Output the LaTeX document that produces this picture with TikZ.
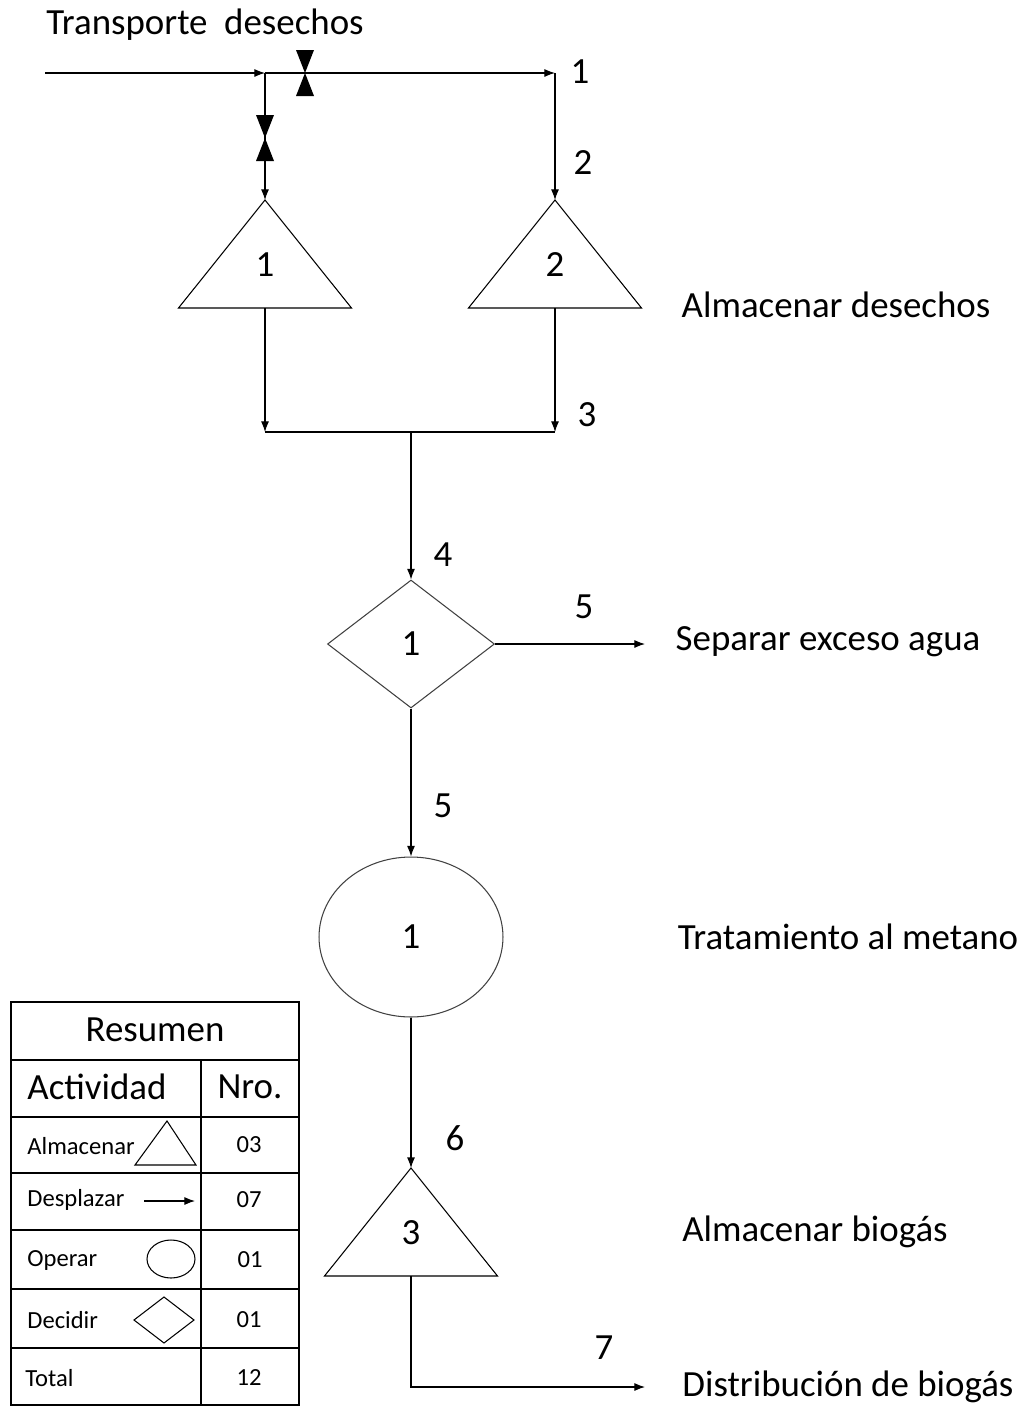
\documentclass[tikz,border=0pt]{standalone}
\usepackage{fontspec}
\setmainfont{Carlito}
\usetikzlibrary{shapes.geometric,arrows.meta}

\tikzset{
  flecha/.style={-{Latex[length=6pt,width=4.5pt]}},
  grande/.style={font=\fontsize{21}{24}\selectfont},
  chico/.style={font=\fontsize{14}{16}\selectfont},
  decision/.style={diamond, draw=black!75, inner sep=0pt, minimum width=3.34cm, minimum height=2.56cm, grande},
  operacion/.style={ellipse, draw=black!75, inner sep=0pt, minimum width=3.68cm, minimum height=3.2cm, grande},
}

% triangulo de almacenamiento: nombre, vertice, numero
\newcommand{\tanque}[3]{%
  \coordinate (#1-ap) at #2;
  \draw (#1-ap) -- ++(-86.5,108) -- ++(86.5,0) coordinate (#1-b) -- ++(86.5,0) -- cycle;
  \path (#1-ap) ++(0,65) node[grande] (#1-n) {#3};
}
% valvula (dos triangulos negros)
\newcommand{\valv}[1]{%
  \fill[shift={(#1)}] (-9,-23) -- (9,-23) -- (0,0) -- cycle (-9,23) -- (9,23) -- (0,0) -- cycle;
}

\begin{document}
\begin{tikzpicture}[x=0.02cm, y=-0.02cm, line width=0.6pt]
  \useasboundingbox (0,0) rectangle (1026,1407);

  % entrada
  \node[grande] (trans) at (205,25) {Transporte\ \ desechos};
  \coordinate (ini) at (45,73);
  \coordinate (bif) at (265,73);
  \coordinate (p1) at (555,73);
  \draw[flecha] (ini) -- (bif);
  \draw[flecha] (bif) -- (p1);
  \valv{305,73}
  \node[grande] (n1) at (580,72) {1};

  % almacenes
  \tanque{t1}{(265,200)}{1}
  \tanque{t2}{(555,200)}{2}
  \draw[flecha] (bif) -- (t1-ap);
  \valv{265,138}
  \draw[flecha] (p1) -- (t2-ap);
  \node[grande] (n2) at (583,163) {2};
  \node[grande] (alm1) at (836,305) {Almacenar desechos};

  % union
  \coordinate (u1) at (265,432);
  \coordinate (u2) at (555,432);
  \coordinate (u) at (411,432);
  \draw[flecha] (t1-b) -- (u1);
  \draw[flecha] (t2-b) -- (u2);
  \draw (u1) -- (u2);
  \node[grande] (n3) at (587,415) {3};

  % separar
  \node[decision] (d1) at (411,644) {1};
  \draw[flecha] (u) -- (d1.north);
  \node[grande] (n4) at (443,555) {4};
  \coordinate (agua) at (645,644);
  \draw[flecha] (d1.east) -- (agua);
  \node[grande] (n5a) at (584,607) {5};
  \node[grande] (sep) at (828,642) {Separar exceso agua};

  % tratamiento
  \node[operacion] (o1) at (411,937) {1};
  \draw[flecha] (d1.south) -- (o1.north);
  \node[grande] (n5b) at (443,806) {5};
  \node[grande] (trat) at (848,937) {Tratamiento al metano};

  % biogas
  \tanque{t3}{(411,1168)}{3}
  \draw[flecha] (o1.south) -- (t3-ap);
  \node[grande] (n6) at (455,1138) {6};
  \node[grande] (alm2) at (815,1232) {Almacenar biogás};
  \coordinate (esq) at (411,1387);
  \coordinate (dist) at (645,1387);
  \draw[flecha] (t3-b) -- (esq) -- (dist);
  \node[grande] (n7) at (604,1348) {7};
  \node[grande] (distb) at (848,1387) {Distribución de biogás};

  % tabla resumen
  \draw (11,1002) rectangle (299,1405);
  \foreach \y in {1060,1117,1173,1230,1289,1348}
    \draw (11,\y) -- (299,\y);
  \draw (201,1060) -- (201,1405);
  \node[grande] (res) at (155,1030) {Resumen};
  \node[grande] (act) at (97,1087) {Actividad};
  \node[grande] (nro) at (250,1087) {Nro.};
  \node[chico, anchor=west] (ta) at (21,1146) {Almacenar};
  \node[chico, anchor=west] (td) at (21,1200) {Desplazar};
  \node[chico, anchor=west] (to) at (21,1260) {Operar};
  \node[chico, anchor=west] (tc) at (21,1320) {Decidir};
  \node[chico, anchor=west] (tt) at (19,1378) {Total};
  \node[chico] (c1) at (249,1145) {03};
  \node[chico] (c2) at (249,1200) {07};
  \node[chico] (c3) at (250,1260) {01};
  \node[chico] (c4) at (249,1320) {01};
  \node[chico] (c5) at (249,1378) {12};
  \draw (167,1121) -- (196,1165) -- (135,1165) -- cycle;
  \draw[flecha] (144,1201) -- (195,1201);
  \draw (171,1259) ellipse[x radius=24, y radius=19];
  \draw (134,1320) -- (164,1297) -- (194,1320) -- (164,1343) -- cycle;
\end{tikzpicture}
\end{document}
